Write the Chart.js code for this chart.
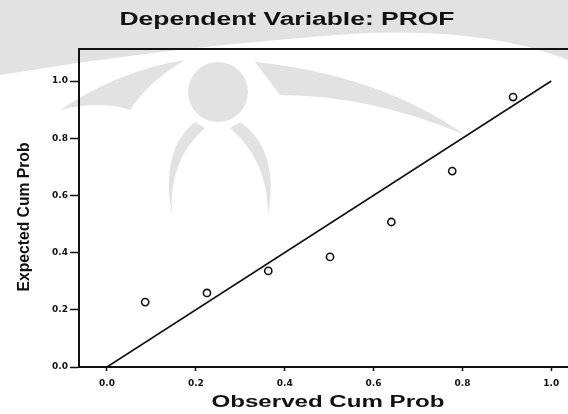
<!DOCTYPE html>
<html>
<head>
<meta charset="utf-8">
<script src="https://cdn.jsdelivr.net/npm/chart.js@4.4.0/dist/chart.umd.min.js"></script>
<style>
  html, body { margin: 0; padding: 0; background: #fff; }
  #wrap { width: 568px; height: 414px; position: relative; }
</style>
</head>
<body>
<div id="wrap"><canvas id="ppPlot"></canvas></div>
<script>
// P-P plot values
const observedCumProb = [0.086, 0.225, 0.363, 0.502, 0.640, 0.777, 0.914];
const expectedCumProb = [0.227, 0.259, 0.336, 0.385, 0.507, 0.685, 0.944];
const diagonalX = [0, 1];
const diagonalY = [0, 1];
const tickValues = [0, 0.2, 0.4, 0.6, 0.8, 1.0];

const chartTitle = 'Dependent Variable: PROF';
const xTitle = 'Observed Cum Prob';
const yTitle = 'Expected Cum Prob';

// draws a text squeezed/stretched to a given width
function fitText(ctx, text, cx, cy, width, font) {
    ctx.save();
    ctx.font = font;
    const w = ctx.measureText(text).width;
    ctx.translate(cx, cy);
    ctx.scale(width / w, 1);
    ctx.textAlign = 'center';
    ctx.textBaseline = 'middle';
    ctx.fillStyle = '#111';
    ctx.fillText(text, 0, 0);
    ctx.restore();
}

// faint grey watermark behind the plot (scan background)
const watermark = {
    id: 'watermark',
    beforeDraw(chart) {
        const ctx = chart.ctx;
        ctx.save();
        ctx.fillStyle = '#e2e2e2';
        // top band
        ctx.beginPath();
        ctx.moveTo(0, 0); ctx.lineTo(568, 0); ctx.lineTo(568, 60);
        ctx.quadraticCurveTo(470, 20, 300, 38);
        ctx.quadraticCurveTo(150, 50, 0, 75);
        ctx.closePath();
        ctx.fill();
        // circle
        ctx.beginPath();
        ctx.arc(218, 92, 30, 0, Math.PI * 2);
        ctx.fill();
        // left swoosh
        ctx.beginPath();
        ctx.moveTo(60, 110);
        ctx.quadraticCurveTo(120, 70, 185, 60);
        ctx.quadraticCurveTo(150, 80, 130, 110);
        ctx.quadraticCurveTo(100, 100, 60, 110);
        ctx.fill();
        // right swoosh
        ctx.beginPath();
        ctx.moveTo(255, 62);
        ctx.quadraticCurveTo(380, 75, 465, 135);
        ctx.quadraticCurveTo(370, 95, 280, 95);
        ctx.closePath();
        ctx.fill();
        // tapered legs
        ctx.beginPath();
        ctx.moveTo(195, 122);
        ctx.quadraticCurveTo(160, 150, 172, 215);
        ctx.quadraticCurveTo(168, 160, 205, 128);
        ctx.closePath();
        ctx.fill();
        ctx.beginPath();
        ctx.moveTo(240, 122);
        ctx.quadraticCurveTo(280, 150, 268, 215);
        ctx.quadraticCurveTo(268, 160, 230, 128);
        ctx.closePath();
        ctx.fill();
        ctx.restore();
    }
};

const frameAndTitles = {
    id: 'frameAndTitles',
    afterDraw(chart) {
        const ctx = chart.ctx;
        const area = chart.chartArea;
        ctx.save();
        ctx.strokeStyle = '#111';
        ctx.lineWidth = 2;
        ctx.beginPath();
        // top frame and the bottom axis run out to the page edge
        ctx.moveTo(area.left, area.top);
        ctx.lineTo(chart.width, area.top);
        ctx.moveTo(area.right - 1, area.bottom);
        ctx.lineTo(chart.width, area.bottom);
        ctx.stroke();
        ctx.restore();

        fitText(ctx, chartTitle, 287, 20, 335, 'bold 18px "Liberation Sans"');
        fitText(ctx, xTitle, 328, 403, 233, 'bold 16px "Liberation Sans"');
        ctx.save();
        ctx.translate(24, 217);
        ctx.rotate(-Math.PI / 2);
        fitText(ctx, yTitle, 0, 0, 149, 'bold 17px "Liberation Sans"');
        ctx.restore();
    }
};

const tickFont = { family: 'DejaVu Sans', size: 9, weight: 'bold' };

new Chart(document.getElementById('ppPlot'), {
    type: 'scatter',
    data: {
        datasets: [{
            label: 'Diagonal',
            data: diagonalX.map((x, i) => ({ x: x, y: diagonalY[i] })),
            showLine: true,
            borderColor: '#111',
            borderWidth: 1.6,
            pointRadius: 0
        }, {
            label: 'PROF',
            data: observedCumProb.map((x, i) => ({ x: x, y: expectedCumProb[i] })),
            showLine: false,
            pointStyle: 'circle',
            pointRadius: 3.6,
            backgroundColor: '#fff',
            borderColor: '#111',
            borderWidth: 1.6
        }]
    },
    options: {
        responsive: true,
        maintainAspectRatio: false,
        animation: false,
        layout: { padding: { top: 49, left: 0, right: 0, bottom: 0 } },
        plugins: {
            legend: { display: false },
            tooltip: { enabled: false },
            title: { display: false }
        },
        scales: {
            x: {
                type: 'linear',
                min: -0.063,
                max: 1.025,
                afterBuildTicks: (s) => { s.ticks = tickValues.map(v => ({ value: v })); },
                afterFit: (s) => { s.height = 47; },
                border: { display: true, color: '#111', width: 2 },
                grid: { drawOnChartArea: false, drawTicks: true, tickLength: 4, tickColor: '#111', tickWidth: 1.5 },
                ticks: {
                    color: '#111',
                    font: tickFont,
                    padding: 7,
                    maxRotation: 0,
                    callback: (v) => Number(v).toFixed(1)
                }
            },
            y: {
                type: 'linear',
                min: 0,
                max: 1.112,
                afterBuildTicks: (s) => { s.ticks = tickValues.map(v => ({ value: v })); },
                afterFit: (s) => { s.width = 79; },
                border: { display: true, color: '#111', width: 2 },
                grid: { drawOnChartArea: false, drawTicks: true, tickLength: 9, tickColor: '#111', tickWidth: 1.5 },
                ticks: {
                    color: '#111',
                    font: tickFont,
                    padding: 2,
                    callback: (v) => Number(v).toFixed(1)
                }
            }
        }
    },
    plugins: [watermark, frameAndTitles]
});
</script>
</body>
</html>
